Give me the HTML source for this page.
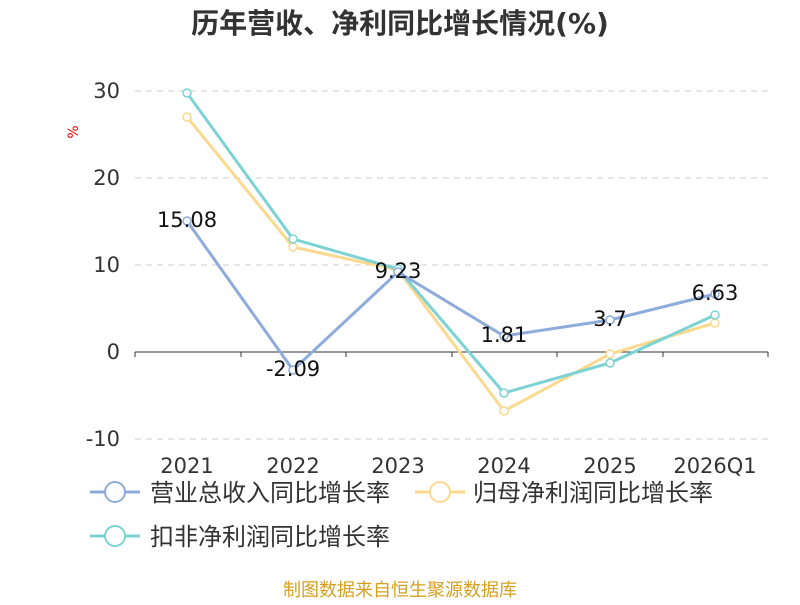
<!DOCTYPE html>
<html><head><meta charset="utf-8"><style>
body{margin:0;background:#fff;}
svg text{font-family:"DejaVu Sans","Noto Sans CJK SC",sans-serif;}
</style></head><body>
<svg width="800" height="600" xmlns="http://www.w3.org/2000/svg">
<text x="400" y="33" text-anchor="middle" font-size="28" font-weight="bold" fill="#333">历年营收、净利同比增长情况(%)</text>
<text x="78" y="132" font-size="14" fill="#e00" transform="rotate(-90 78 132)" text-anchor="middle">%</text>
<g stroke="#ccc" stroke-dasharray="6,5" stroke-width="1">
<line x1="135" y1="91" x2="768" y2="91"/>
<line x1="135" y1="178" x2="768" y2="178"/>
<line x1="135" y1="265" x2="768" y2="265"/>
<line x1="135" y1="439" x2="768" y2="439"/>
</g>
<line x1="135" y1="352" x2="768" y2="352" stroke="#333" stroke-width="1"/>
<g stroke="#333"><line x1="135" y1="352" x2="135" y2="357"/><line x1="241" y1="352" x2="241" y2="357"/><line x1="346" y1="352" x2="346" y2="357"/><line x1="452" y1="352" x2="452" y2="357"/><line x1="557" y1="352" x2="557" y2="357"/><line x1="663" y1="352" x2="663" y2="357"/><line x1="768" y1="352" x2="768" y2="357"/></g>
<g font-size="21" fill="#333" text-anchor="end">
<text x="120" y="98">30</text><text x="120" y="185">20</text><text x="120" y="272">10</text><text x="120" y="359">0</text><text x="120" y="446">-10</text>
</g>
<g font-size="21" fill="#333" text-anchor="middle">
<text x="187" y="473">2021</text><text x="293" y="473">2022</text><text x="398" y="473">2023</text><text x="504" y="473">2024</text><text x="610" y="473">2025</text><text x="715" y="473">2026Q1</text>
</g>
<polyline fill="none" stroke="#fbd98f" stroke-width="3" points="187,117 293,247 398,270 504,411 610,354 715,323"/>
<polyline fill="none" stroke="#7dd3d3" stroke-width="3" points="187,93 293,239 398,269 504,393 610,363 715,315"/>
<polyline fill="none" stroke="#8eacdb" stroke-width="3" points="187,221 293,370 398,272 504,336 610,320 715,294"/>
<g fill="#fff" stroke-width="1.5">
<g stroke="#fbd98f"><circle cx="187" cy="117" r="4"/><circle cx="293" cy="247" r="4"/><circle cx="398" cy="270" r="4"/><circle cx="504" cy="411" r="4"/><circle cx="610" cy="354" r="4"/><circle cx="715" cy="323" r="4"/></g>
<g stroke="#7dd3d3"><circle cx="187" cy="93" r="4"/><circle cx="293" cy="239" r="4"/><circle cx="398" cy="269" r="4"/><circle cx="504" cy="393" r="4"/><circle cx="610" cy="363" r="4"/><circle cx="715" cy="315" r="4"/></g>
<g stroke="#8eacdb"><circle cx="187" cy="221" r="4"/><circle cx="293" cy="370" r="4"/><circle cx="398" cy="272" r="4"/><circle cx="504" cy="336" r="4"/><circle cx="610" cy="320" r="4"/><circle cx="715" cy="294" r="4"/></g>
</g>
<g font-size="21" fill="#111" text-anchor="middle">
<text x="187" y="227">15.08</text><text x="293" y="376">-2.09</text><text x="398" y="278">9.23</text><text x="504" y="342">1.81</text><text x="610" y="326">3.7</text><text x="715" y="300">6.63</text>
</g>
<g stroke-width="3" fill="#fff">
<line x1="90" y1="492" x2="140" y2="492" stroke="#8eacdb"/><circle cx="115" cy="492" r="10" stroke="#8eacdb" stroke-width="2"/>
<line x1="415" y1="492" x2="465" y2="492" stroke="#fbd98f"/><circle cx="440" cy="492" r="10" stroke="#fbd98f" stroke-width="2"/>
<line x1="90" y1="536" x2="140" y2="536" stroke="#7dd3d3"/><circle cx="115" cy="536" r="10" stroke="#7dd3d3" stroke-width="2"/>
</g>
<g font-size="24" fill="#333">
<text x="150" y="501">营业总收入同比增长率</text>
<text x="473" y="501">归母净利润同比增长率</text>
<text x="150" y="545">扣非净利润同比增长率</text>
</g>
<text x="400" y="596" text-anchor="middle" font-size="18" fill="#d4a020">制图数据来自恒生聚源数据库</text>
</svg>
</body></html>
